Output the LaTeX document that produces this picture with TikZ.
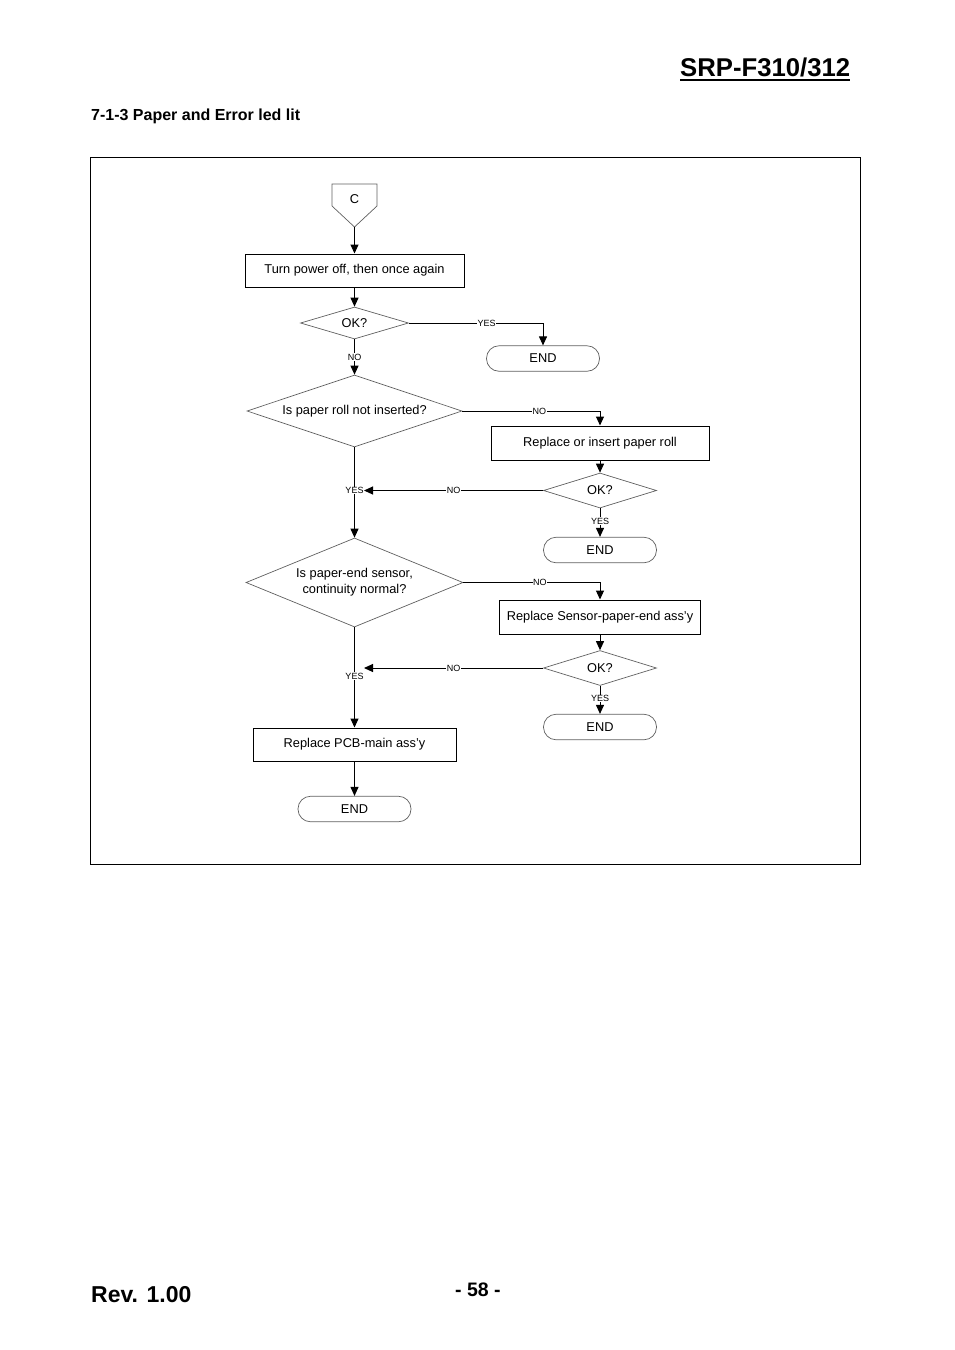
\documentclass[tikz,border=0pt]{standalone}
\usepackage{fontspec}
\setmainfont{Liberation Sans}
\usetikzlibrary{shapes.geometric,arrows.meta}
\definecolor{edge}{RGB}{95,95,95}

\begin{document}
\begin{tikzpicture}[x=1pt,y=-1pt,
  txt/.style={font=\fontsize{12.8}{16}\selectfont},
  box/.style={txt, draw, line width=1pt, minimum height=33pt, inner sep=0pt},
  ask/.style={txt, draw=edge, line width=0.7pt, diamond, shape aspect=3, inner sep=0pt, align=center},
  stop/.style={txt, draw=edge, line width=0.7pt, rounded corners=12.5pt, minimum width=113pt, minimum height=25.5pt},
  arr/.style={line width=1pt, -{Triangle[width=8pt,length=9pt]}},
  lbl/.style={font=\fontsize{9}{9}\selectfont, fill=white, inner sep=0.6pt}]
  \useasboundingbox (0,0) rectangle (954,1350);
  %% Page header and footer
  \node[anchor=base west, inner sep=0pt, font=\bfseries\fontsize{25.7}{26}\selectfont] (model) at (680,76.5) {SRP-F310/312};
  \draw[line width=2.8pt] ([yshift=-3.5pt]model.base west) -- ([yshift=-3.5pt]model.base east);
  \node[anchor=base west, inner sep=0pt, font=\bfseries\fontsize{16}{16}\selectfont] (section) at (91,120) {7-1-3 Paper and Error led lit};
  \node[anchor=base west, inner sep=0pt, font=\bfseries\fontsize{23}{23}\selectfont] (rev) at (91,1302) {Rev. 1.00};
  \node[anchor=base west, inner sep=0pt, font=\bfseries\fontsize{19.5}{19.5}\selectfont] (page) at (455,1296.5) {- 58 -};
  \draw[line width=0.8pt] (90,157) rectangle (860,864);

  %% Off-page connector
  \draw[edge, line width=0.7pt] (332,184) -- (377,184) -- (377,206) -- (354.5,227) -- (332,206) -- cycle;
  \node[txt] (C) at (354.5,199) {C};
  \coordinate (Ctip) at (354.5,227);

  %% Left column
  \node[box, minimum width=219pt] (b1) at (354.5,270.5) {Turn power off, then once again};
  \node[ask, minimum width=108pt, minimum height=32pt] (d1) at (354.5,323) {OK?};
  \node[ask, minimum width=215pt, minimum height=72pt] (d2) at (354.5,411) {Is paper roll not inserted?};
  \node[ask, minimum width=217pt, minimum height=89pt] (d4) at (354.5,582.5) {Is paper-end sensor,\\continuity normal?};
  \node[box, minimum width=203pt] (b4) at (354.5,744.5) {Replace PCB-main ass'y};
  \node[stop] (e4) at (354.5,809) {END};

  %% Right column
  \node[stop] (e1) at (543,358.5) {END};
  \node[box, minimum width=218pt, minimum height=34pt] (b2) at (600,443) {Replace or insert paper roll};
  \node[ask, minimum width=113pt, minimum height=35pt] (d3) at (600,490.5) {OK?};
  \node[stop] (e2) at (600,550) {END};
  \node[box, minimum width=201pt, minimum height=34pt] (b3) at (600,617) {Replace Sensor-paper-end ass'y};
  \node[ask, minimum width=113pt, minimum height=35pt] (d5) at (600,668) {OK?};
  \node[stop] (e3) at (600,727) {END};
  \coordinate (j1) at (364,490.5);
  \coordinate (j2) at (364,668);

  %% Connectors
  \draw[arr] (Ctip) -- (b1);
  \draw[arr] (b1) -- (d1);
  \draw[arr] (d1.east) -| node[lbl, pos=0.29] {YES} (e1);
  \draw[arr] (d1) -- node[lbl] {NO} (d2);
  \draw[arr] (d2.east) -| node[lbl, pos=0.28] {NO} (b2);
  \draw[arr] (b2) -- (d3);
  \draw[arr] (d3) -- node[lbl, pos=0.45] {YES} (e2);
  \draw[arr] (d3.west) -- node[lbl] {NO} (j1);
  \draw[arr] (d2) -- node[lbl, pos=0.48] {YES} (d4);
  \draw[arr] (d4.east) -| node[lbl, pos=0.28] {NO} (b3);
  \draw[arr] (b3) -- (d5);
  \draw[arr] (d5) -- node[lbl, pos=0.45] {YES} (e3);
  \draw[arr] (d5.west) -- node[lbl] {NO} (j2);
  \draw[arr] (d4) -- node[lbl, pos=0.485] {YES} (b4);
  \draw[arr] (b4) -- (e4);
\end{tikzpicture}
\end{document}
